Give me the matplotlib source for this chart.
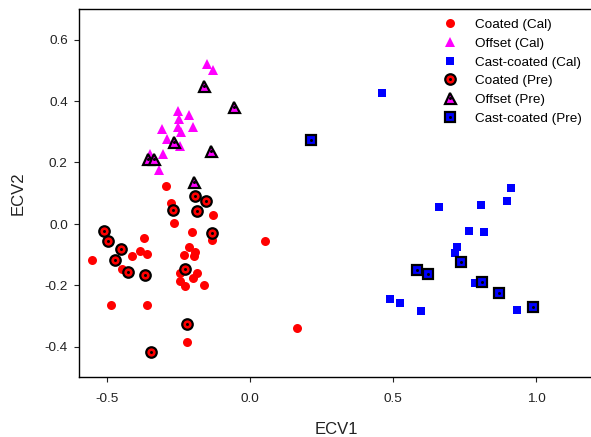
import matplotlib
matplotlib.use("Agg")
import matplotlib.pyplot as plt
from matplotlib.lines import Line2D
from matplotlib.legend_handler import HandlerTuple

plt.rcParams['font.family'] = ['Liberation Sans', 'DejaVu Sans']
plt.rcParams['axes.unicode_minus'] = False

# ---- data ----
coated_cal_x = [-0.296, -0.279, -0.129, -0.266, -0.205, -0.135, -0.373, 0.051, -0.386, -0.362,
                -0.413, -0.214, -0.231, -0.193, -0.196, -0.553, -0.450, -0.246, -0.185, -0.202,
                -0.246, -0.227, -0.161, -0.486, -0.360, 0.164, -0.223]
coated_cal_y = [0.123, 0.067, 0.029, 0.003, -0.028, -0.053, -0.047, -0.056, -0.088, -0.097,
                -0.106, -0.075, -0.100, -0.092, -0.106, -0.118, -0.146, -0.160, -0.160, -0.178,
                -0.187, -0.204, -0.199, -0.263, -0.263, -0.338, -0.386]

offset_cal_x = [-0.153, -0.129, -0.254, -0.213, -0.251, -0.310, -0.252, -0.199, -0.242, -0.293,
                -0.246, -0.304, -0.319, -0.351]
offset_cal_y = [0.522, 0.502, 0.368, 0.353, 0.341, 0.309, 0.315, 0.316, 0.299, 0.276,
                0.254, 0.227, 0.174, 0.228]

cast_cal_x = [0.910, 0.896, 0.658, 0.805, 0.766, 0.818, 0.721, 0.714, 0.785, 0.524,
              0.595, 0.931, 0.460, 0.488]
cast_cal_y = [0.116, 0.075, 0.055, 0.061, -0.022, -0.026, -0.075, -0.094, -0.192, -0.258,
              -0.283, -0.281, 0.426, -0.245]

coated_pre_x = [-0.193, -0.156, -0.272, -0.185, -0.134, -0.511, -0.498, -0.452, -0.473, -0.427,
                -0.368, -0.227, -0.223, -0.348]
coated_pre_y = [0.092, 0.074, 0.045, 0.042, -0.029, -0.025, -0.056, -0.083, -0.119, -0.158,
                -0.168, -0.148, -0.328, -0.419]

offset_pre_x = [-0.162, -0.056, -0.267, -0.359, -0.337, -0.139, -0.196]
offset_pre_y = [0.448, 0.382, 0.268, 0.210, 0.211, 0.238, 0.137]

cast_pre_x = [0.584, 0.622, 0.738, 0.811, 0.869, 0.988, 0.212]
cast_pre_y = [-0.151, -0.162, -0.123, -0.190, -0.225, -0.272, 0.274]

labels = ["Coated (Cal)", "Offset (Cal)", "Cast-coated (Cal)",
          "Coated (Pre)", "Offset (Pre)", "Cast-coated (Pre)"]
xticks = [-0.5, 0.0, 0.5, 1.0]
yticks = [-0.4, -0.2, 0.0, 0.2, 0.4, 0.6]

RED, MAG, BLUE = "#FF0000", "#FF00FF", "#0000FF"

W, H = 591, 437
fig = plt.figure(figsize=((W + 0.3) / 100, (H + 0.3) / 100), dpi=100)
left, right, top, bottom = 78.7, 593.3, 9.3, 377.3
ax = fig.add_axes([left / W, (H - bottom) / H, (right - left) / W, (bottom - top) / H])
ax.set_xlim(-0.6, 1.2)
ax.set_ylim(-0.5, 0.7)

px = 0.72  # points per pixel
cal_style = dict(linestyle="none", markeredgewidth=0)
ax.plot(coated_cal_x, coated_cal_y, marker="o", color=RED, markersize=9 * px, **cal_style)
ax.plot(offset_cal_x, offset_cal_y, marker="^", color=MAG, markersize=9.5 * px, **cal_style)
ax.plot(cast_cal_x, cast_cal_y, marker="s", color=BLUE, markersize=8 * px, **cal_style)

def pre_handles(marker, color, ms):
    big = Line2D([], [], linestyle="none", marker=marker, markersize=ms * px,
                 markerfacecolor=color, markeredgecolor="black", markeredgewidth=2.2 * px)
    dot = Line2D([], [], linestyle="none", marker="o", markersize=3 * px,
                 markerfacecolor="black", markeredgewidth=0)
    return big, dot

pre_sets = [(coated_pre_x, coated_pre_y, "o", RED, 10.5),
            (offset_pre_x, offset_pre_y, "^", MAG, 11),
            (cast_pre_x, cast_pre_y, "s", BLUE, 9.5)]
pre_leg = []
for xs, ys, m, c, ms in pre_sets:
    ax.plot(xs, ys, linestyle="none", marker=m, markersize=ms * px, markerfacecolor=c,
            markeredgecolor="black", markeredgewidth=2.2 * px, zorder=3)
    ax.plot(xs, ys, linestyle="none", marker="o", markersize=3 * px, markerfacecolor="black",
            markeredgewidth=0, zorder=4)
    pre_leg.append(pre_handles(m, c, ms))

cal_leg = [Line2D([], [], linestyle="none", marker="o", color=RED, markersize=9 * px, markeredgewidth=0),
           Line2D([], [], linestyle="none", marker="^", color=MAG, markersize=9.5 * px, markeredgewidth=0),
           Line2D([], [], linestyle="none", marker="s", color=BLUE, markersize=8 * px, markeredgewidth=0)]

handles = cal_leg + pre_leg
leg = ax.legend(handles, labels, handler_map={tuple: HandlerTuple(ndivide=1, pad=0)},
                loc="upper left", bbox_to_anchor=(443.5 / W, 1 - 19.0 / H),
                bbox_transform=fig.transFigure, frameon=False, fontsize=9.7,
                borderpad=0, borderaxespad=0, handlelength=1.0, handletextpad=1.35,
                labelspacing=0.46)

for s in ["top", "left", "bottom"]:
    ax.spines[s].set_linewidth(1.0)
ax.spines["right"].set_visible(False)

ax.set_xticks(xticks)
ax.set_xticklabels([f"{t:.1f}" for t in xticks])
ax.set_yticks(yticks)
ax.set_yticklabels([f"{t:.1f}" for t in yticks])
ax.tick_params(direction="out", length=5 * px, width=0.8, labelsize=9.7, colors="#222222")
ax.tick_params(axis="y", pad=4.3)
ax.tick_params(axis="x", pad=7.5)
ax.set_xlabel("ECV1", fontsize=12, labelpad=12.5, color="#222222")
ax.set_ylabel("ECV2", fontsize=12, labelpad=13.5, color="#222222")

fig.savefig("out.png", dpi=100)
